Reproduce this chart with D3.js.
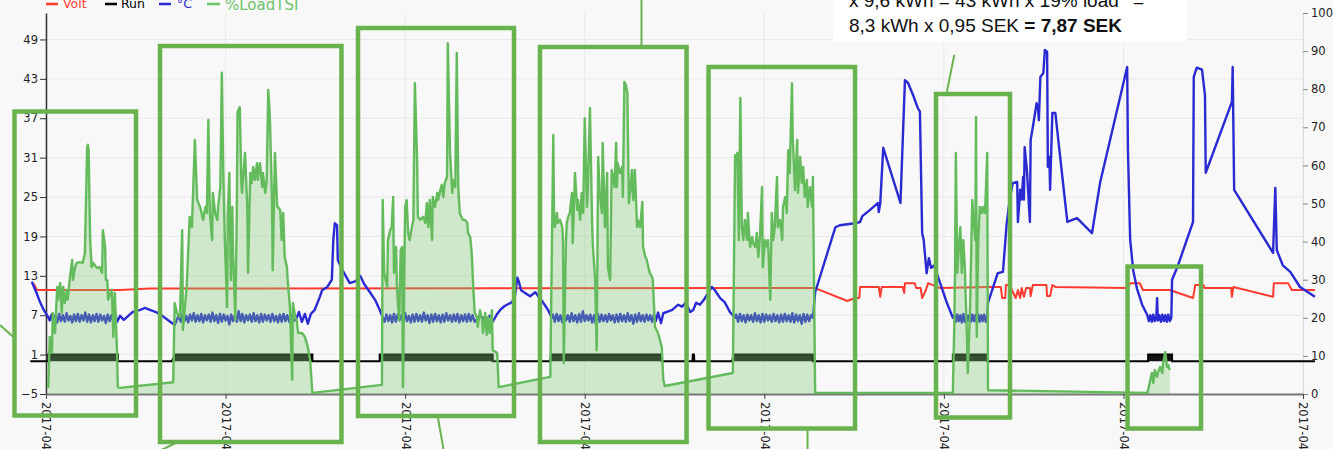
<!DOCTYPE html>
<html><head><meta charset="utf-8">
<script src="https://cdn.jsdelivr.net/npm/d3@7"></script>
<style>
html,body{margin:0;padding:0;background:#f8f8f8;overflow:hidden}
svg{display:block}
</style></head><body>
<svg id="chart" width="1333" height="449"></svg>
<script>
// ---------------- DATA (time in hours from first tick) ----------------
const xTicks = [0, 24, 48, 72, 96, 120, 144, 168];
const xTickLabels = ["2017-04","2017-04","2017-04","2017-04","2017-04","2017-04","2017-04","2017-04"];
const leftTicks = [-5, 1, 7, 13, 19, 25, 31, 37, 43, 49];
const rightTicks = [0, 10, 20, 30, 40, 50, 60, 70, 80, 90, 100];
const seriesNames = ["Volt", "Run", "°C", "%LoadTSI"];

// Volt (right axis)
const volt = [[-1.7,29.1],[-1.2,27.3],[9.9,27.3],[13.9,27.7],[102.8,27.8],[107.1,24.4],[108.1,25.2],[108.7,25.2],[108.8,28.1],[111.3,28.1],[111.5,25.5],[111.7,28.1],[114.5,28.1],[114.7,26.5],[114.8,29.1],[116.1,29.1],[116.3,27.8],[116.9,27.8],[117.1,25.2],[117.6,27.3],[117.9,29.1],[119.5,27.8],[126.2,28.1],[127.6,28.1],[127.8,25.2],[128.2,25.2],[128.3,28.6],[128.8,28.6],[129.1,27.3],[129.6,25.2],[129.9,27.3],[130.2,25.2],[130.4,27.8],[130.7,25.5],[131.0,27.8],[131.5,27.8],[131.6,25.7],[131.8,27.8],[131.9,28.6],[133.7,28.6],[133.8,25.7],[134.2,25.7],[134.5,28.6],[134.9,28.1],[144.5,27.8],[144.9,29.1],[146.2,29.1],[146.6,27.3],[150.2,27.3],[153.3,25.2],[153.6,28.6],[154.7,28.6],[154.8,27.8],[158.4,27.8],[158.5,25.5],[158.7,28.1],[164.0,25.5],[164.1,29.1],[166.0,29.1],[166.5,27.3],[169.6,27.3]];

// Run 0/1 (left axis)
const run = [[-2.1,0],[0.3,0],[0.3,1],[9.6,1],[9.6,0],[16.8,0],[17.3,1],[35.6,1],[35.6,0],[44.6,0],[44.6,1],[59.7,1],[59.7,0],[67.4,0],[67.5,1],[82.3,1],[82.3,0],[86.4,0],[86.45,1],[86.6,1],[86.65,0],[91.7,0],[91.9,1],[102.5,1],[102.5,0],[121.2,0],[121.2,1],[125.8,1],[125.8,0],[147.3,0],[147.3,1],[150.5,1],[150.5,0],[169.6,0]];

// °C (left axis)
const temp = [[-1.9,12.1],[-1.3,10.5],[-0.8,9.0],[-0.3,7.8],[0.3,6.7],
[0.5,6.2],[0.75,7.1],[1.0,6.0],[1.25,7.0],[1.5,5.9],[1.75,7.2],[2.0,6.1],[2.25,7.0],[2.5,6.0],[2.75,7.3],[3.0,6.2],[3.25,6.9],[3.5,5.9],[3.75,7.1],[4.0,6.1],[4.25,7.2],[4.5,6.0],[4.75,7.0],[5.0,6.2],[5.25,7.4],[5.5,6.0],[5.75,7.1],[6.0,5.9],[6.25,7.0],[6.5,6.1],[6.75,7.2],[7.0,6.0],[7.25,7.1],[7.5,6.2],[7.75,6.9],[8.0,5.8],[8.25,7.1],[8.5,6.1],[8.75,7.0],[9.0,6.0],[9.25,7.2],[9.5,6.0],
[9.9,6.9],[10.4,6.3],[11.0,6.9],[11.6,7.5],[12.6,7.8],[13.2,8.1],[13.9,7.8],[14.6,7.5],[15.2,7.2],[15.9,6.6],[16.6,6.0],[17.2,5.5],[17.5,6.3],
[17.75,7.0],[18.0,6.0],[18.25,7.2],[18.5,6.1],[18.75,6.9],[19.0,5.9],[19.25,7.1],[19.5,6.2],[19.75,7.3],[20.0,6.0],[20.25,7.0],[20.5,6.1],[20.75,7.2],[21.0,5.9],[21.25,7.0],[21.5,6.2],[21.75,7.1],[22.0,6.0],[22.25,7.4],[22.5,6.1],[22.75,7.0],[23.0,5.8],[23.25,7.2],[23.5,6.0],[23.75,7.1],[24.0,6.2],[24.25,6.9],[24.5,5.6],[24.75,7.1],[25.0,6.1],[25.25,7.0],[25.5,6.0],[25.75,7.6],[26.0,6.1],[26.25,7.2],[26.5,5.9],[26.75,7.0],[27.0,6.2],[27.25,7.1],[27.5,6.0],[27.75,7.3],[28.0,6.1],[28.25,7.0],[28.5,5.9],[28.75,7.2],[29.0,6.0],[29.25,7.1],[29.5,6.2],[29.75,7.0],[30.0,6.0],[30.25,7.2],[30.5,6.1],[30.75,6.9],[31.0,5.9],[31.25,7.1],[31.5,6.0],[31.75,7.2],[32.0,6.1],[32.25,7.0],[32.5,6.0],[32.75,7.1],[33.0,6.2],
[33.4,6.3],[33.8,7.5],[34.2,6.0],[34.6,7.2],[35.0,5.7],[35.4,7.2],[35.9,7.8],[36.6,9.8],[36.9,10.8],[37.6,11.3],[38.2,12.4],[38.4,18.5],[38.6,21.0],[38.9,20.7],[39.0,15.4],[39.6,13.9],[40.6,11.9],[41.4,12.2],[42.0,13.0],[42.5,11.8],[43.3,10.5],[44.0,9.3],[44.6,7.8],[45.0,6.7],
[45.25,6.0],[45.5,7.1],[45.75,6.1],[46.0,7.0],[46.25,5.9],[46.5,7.2],[46.75,6.0],[47.0,7.1],[47.25,6.2],[47.5,7.0],[47.75,6.0],[48.0,7.3],[48.25,6.1],[48.5,6.9],[48.75,5.9],[49.0,7.1],[49.25,6.0],[49.5,7.2],[49.75,6.1],[50.0,7.0],[50.25,6.0],[50.5,7.4],[50.75,6.2],[51.0,7.0],[51.25,5.8],[51.5,7.1],[51.75,6.0],[52.0,7.2],[52.25,6.1],[52.5,7.0],[52.75,5.9],[53.0,7.1],[53.25,6.0],[53.5,7.3],[53.75,6.2],[54.0,7.0],[54.25,6.0],[54.5,7.1],[54.75,6.1],[55.0,7.2],[55.25,5.9],[55.5,7.0],[55.75,6.1],[56.0,7.1],[56.25,6.0],[56.5,7.2],[56.75,6.1],[57.0,7.0],
[57.3,6.0],[58.0,6.9],[58.7,6.3],[59.3,6.9],[59.7,6.0],[60.3,7.2],[60.7,7.8],[61.3,8.4],[62.3,9.0],[62.7,10.1],[63.0,12.7],[63.2,12.1],[63.5,10.8],[64.0,10.4],[64.7,9.9],[65.4,10.5],[65.8,9.9],[66.4,9.0],[67.1,7.8],[67.6,6.6],
[67.75,7.1],[68.0,6.0],[68.25,7.2],[68.5,6.1],[68.75,7.0],[69.0,5.9],[69.25,7.1],[69.5,6.2],[69.75,7.0],[70.0,6.0],[70.25,7.3],[70.5,6.1],[70.75,7.0],[71.0,5.9],[71.25,7.2],[71.5,6.0],[71.75,7.6],[72.0,6.1],[72.25,7.0],[72.5,6.2],[72.75,7.1],[73.0,5.9],[73.25,7.0],[73.5,5.6],[73.75,7.2],[74.0,6.0],[74.25,7.1],[74.5,6.1],[74.75,7.0],[75.0,6.0],[75.25,7.2],[75.5,6.2],[75.75,7.0],[76.0,5.9],[76.25,7.1],[76.5,6.0],[76.75,7.2],[77.0,6.1],[77.25,7.0],[77.5,6.0],[77.75,7.3],[78.0,6.1],[78.25,7.0],[78.5,5.7],[78.75,7.1],[79.0,6.0],[79.25,7.3],[79.5,6.1],[79.75,7.0],[80.0,6.0],[80.25,7.1],[80.5,6.2],[80.75,7.0],[81.0,6.0],[81.25,7.1],[81.5,6.1],
[81.8,7.4],[82.2,5.8],[82.5,7.3],[83.0,7.5],[83.7,7.8],[84.5,8.6],[85.0,8.3],[85.5,8.9],[86.1,7.5],[86.5,7.8],[86.9,8.9],[87.4,8.6],[87.9,9.3],[88.5,10.4],[89.0,11.3],[89.4,10.8],[90.1,9.6],[90.7,9.0],[91.4,7.5],[92.1,6.6],
[92.25,7.1],[92.5,6.0],[92.75,7.2],[93.0,6.1],[93.25,7.0],[93.5,5.9],[93.75,7.1],[94.0,6.2],[94.25,7.0],[94.5,6.0],[94.75,7.3],[95.0,6.1],[95.25,7.0],[95.5,5.9],[95.75,7.2],[96.0,6.0],[96.25,7.1],[96.5,6.2],[96.75,7.0],[97.0,6.0],[97.25,7.2],[97.5,6.1],[97.75,7.0],[98.0,5.9],[98.25,7.1],[98.5,6.0],[98.75,7.2],[99.0,6.1],[99.25,7.0],[99.5,6.0],[99.75,7.3],[100.0,5.9],[100.25,7.1],[100.5,6.1],[100.75,7.0],[101.0,5.7],[101.25,7.2],[101.5,6.0],[101.75,7.1],[102.0,6.1],[102.25,7.0],[102.5,6.6],
[102.8,10.5],[105.5,20.4],[106.1,20.7],[108.1,21.0],[108.8,21.2],[109.1,22.1],[110.1,23.0],[111.2,24.1],[111.3,22.7],[111.5,24.1],[111.9,32.5],[114.2,24.1],[114.8,42.8],[115.2,42.4],[115.9,40.5],[116.5,38.6],[116.8,38.0],[117.1,19.5],[117.3,18.5],[117.7,13.4],[118.0,15.7],[118.3,14.2],[118.7,14.6],[118.9,13.9],[120.4,8.9],[121.2,6.6],
[121.4,7.0],[121.6,6.0],[121.8,7.1],[122.0,6.1],[122.2,7.0],[122.4,5.9],[122.6,7.2],[122.8,6.0],[123.0,7.1],[123.2,6.2],[123.4,7.0],[123.6,6.0],[123.8,7.1],[124.0,6.1],[124.2,7.0],[124.4,5.9],[124.6,7.1],[124.8,6.0],[125.0,7.0],[125.2,6.1],[125.4,7.1],[125.6,6.0],[125.8,6.6],
[125.9,8.9],[126.6,11.3],[127.2,13.4],[127.9,13.6],[128.4,21.0],[128.8,24.6],[129.2,27.1],[129.8,27.3],[129.9,21.2],[130.2,26.1],[130.4,24.6],[130.6,28.1],[130.7,24.6],[130.8,32.6],[131.1,29.1],[131.5,21.2],[131.6,33.7],[131.9,35.7],[132.4,39.3],[132.6,38.3],[132.7,36.7],[132.9,43.3],[133.3,43.9],[133.5,47.4],[133.8,47.1],[133.9,29.6],[134.1,31.1],[134.2,26.1],[134.5,37.8],[134.9,37.8],[136.5,21.2],[137.8,21.8],[139.8,19.5],[140.9,27.3],[144.5,44.8],[144.6,32.2],[144.9,18.5],[145.3,13.9],[145.8,11.1],[146.5,8.6],[147.2,7.0],
[147.4,6.1],[147.6,7.0],[147.8,6.0],[148.0,7.1],[148.2,6.1],[148.4,6.8],[148.5,9.6],[148.6,6.2],[148.8,7.0],[149.0,6.0],[149.2,7.1],[149.4,6.1],[149.6,7.0],[149.8,6.0],[150.0,7.1],[150.2,6.1],[150.4,6.6],
[150.5,12.4],[151.2,14.3],[153.3,21.2],[153.4,43.3],[153.8,44.7],[154.5,44.4],[154.9,40.5],[155.0,28.7],[158.5,39.5],[158.6,44.8],[158.8,26.1],[164.0,16.5],[164.3,26.4],[164.5,16.9],[165.3,14.6],[166.3,13.6],[167.6,11.3],[169.6,9.8]];

// %LoadTSI (right axis)
const loadTSI = [[0.3,1.6],[0.5,15.0],[0.8,10.8],[0.9,21.3],[1.2,16.0],[1.5,28.1],[1.6,24.7],[1.9,29.1],[2.1,21.3],[2.3,28.1],[2.5,23.9],[2.8,27.3],[2.9,24.7],[3.2,30.7],[3.5,35.2],[3.6,29.9],[3.9,33.3],[4.1,34.4],[4.5,34.6],[4.9,34.4],[5.2,37.0],[5.5,64.8],[5.6,65.4],[5.7,64.0],[5.9,40.4],[6.1,33.3],[6.3,34.4],[6.8,33.1],[7.2,33.3],[7.5,31.8],[7.6,43.0],[7.9,38.6],[8.0,29.9],[8.2,29.9],[8.3,24.7],[8.6,26.5],[8.8,27.3],[9.0,15.0],[9.2,26.5],[9.5,10.8],[9.6,1.8],[9.9,1.6],
[17.0,3.1],[17.2,23.9],[17.5,21.3],[17.9,20.2],[18.2,43.0],[18.3,16.8],[18.8,28.1],[19.2,46.5],[19.5,43.8],[19.9,66.7],[20.2,50.9],[20.6,49.1],[21.0,45.7],[21.3,49.1],[21.5,47.5],[21.7,71.9],[21.9,47.5],[22.2,40.4],[22.3,52.8],[22.6,47.5],[22.9,45.7],[23.0,49.1],[23.3,54.3],[23.5,84.3],[23.7,58.0],[23.9,40.4],[24.2,22.8],[24.3,47.5],[24.5,58.0],[24.7,29.9],[24.9,49.1],[25.0,37.0],[25.3,19.4],[25.5,47.5],[25.6,73.8],[25.7,74.5],[25.9,75.3],[26.1,56.2],[26.2,52.8],[26.3,55.4],[26.6,63.3],[26.9,49.1],[27.0,31.8],[27.3,58.0],[27.5,55.4],[27.7,59.6],[27.9,56.2],[28.2,60.6],[28.3,56.2],[28.6,60.6],[28.9,54.3],[29.0,58.0],[29.3,52.8],[29.5,56.2],[29.7,79.8],[29.9,73.8],[30.2,51.7],[30.3,32.5],[30.6,63.3],[30.9,49.1],[31.0,49.1],[31.3,48.3],[31.5,40.4],[31.7,47.5],[31.9,36.0],[32.2,33.3],[32.3,29.9],[32.6,22.8],[32.9,3.7],[33.0,23.9],[33.3,20.2],[33.5,19.4],[33.7,16.0],[34.2,16.0],[34.6,15.0],[35.0,12.3],[35.3,8.9],[35.6,0.3],
[44.9,2.4],[45.0,50.9],[45.2,31.8],[45.6,28.1],[45.7,40.4],[46.0,43.0],[46.2,43.8],[46.4,51.7],[46.5,31.8],[46.8,38.6],[46.9,28.1],[47.2,19.4],[47.4,37.8],[47.6,38.6],[47.7,1.8],[48.0,49.1],[48.2,50.9],[48.4,42.3],[48.6,40.4],[48.9,43.8],[49.1,45.7],[49.3,81.6],[49.6,61.4],[49.7,46.5],[50.0,45.7],[50.4,46.5],[50.7,44.9],[50.9,50.1],[51.1,43.8],[51.3,50.9],[51.6,40.4],[51.7,51.7],[52.0,49.1],[52.3,52.8],[52.4,50.9],[52.7,53.5],[52.9,54.9],[53.1,51.7],[53.3,55.4],[53.6,57.0],[53.7,92.1],[54.0,63.3],[54.3,52.8],[54.4,56.2],[54.7,54.3],[54.9,89.5],[55.1,54.3],[55.3,47.5],[55.7,45.7],[56.0,45.7],[56.3,44.9],[56.4,42.3],[56.7,41.2],[56.9,37.0],[57.1,28.1],[57.3,21.3],[57.6,20.2],[57.7,17.6],[58.0,22.0],[58.3,19.4],[58.4,16.0],[58.7,21.3],[58.9,15.5],[59.1,20.2],[59.3,16.0],[59.6,22.0],[59.7,11.5],[60.3,10.8],[60.5,1.8],
[67.4,4.5],[67.8,68.0],[67.9,47.5],[68.0,43.8],[68.3,47.5],[68.4,44.9],[68.7,45.7],[69.0,43.8],[69.1,40.4],[69.2,8.1],[69.5,40.4],[69.6,44.9],[69.8,46.5],[70.0,47.5],[70.3,52.8],[70.4,39.6],[70.7,58.0],[71.0,48.3],[71.1,50.9],[71.4,45.7],[71.6,52.8],[71.8,47.5],[72.0,72.4],[72.3,49.1],[72.4,52.8],[72.7,75.1],[73.0,43.8],[73.1,38.6],[73.4,29.9],[73.6,11.5],[73.8,62.2],[74.0,52.8],[74.3,47.5],[74.4,65.9],[74.7,43.8],[75.0,58.0],[75.1,33.3],[75.4,29.9],[75.6,58.8],[75.8,57.0],[76.0,54.3],[76.2,65.9],[76.3,54.3],[76.4,60.6],[76.7,58.0],[77.0,59.6],[77.1,51.7],[77.3,81.9],[77.5,81.1],[77.7,79.0],[77.9,50.1],[78.1,53.5],[78.3,58.8],[78.5,50.9],[78.7,58.8],[79.0,43.8],[79.1,45.7],[79.4,43.8],[79.7,50.4],[79.8,38.6],[80.1,36.0],[80.3,35.2],[80.5,33.3],[80.7,31.8],[81.0,30.7],[81.1,29.9],[81.4,17.6],[81.8,16.0],[82.3,12.3],[82.5,3.7],[82.7,2.1],
[91.8,5.5],[92.1,62.7],[92.2,60.6],[92.4,63.3],[92.6,40.4],[92.8,77.7],[93.0,43.8],[93.2,40.4],[93.4,45.7],[93.7,40.4],[93.8,47.5],[94.1,38.6],[94.4,41.2],[94.5,39.6],[94.8,38.6],[95.0,42.3],[95.2,36.0],[95.4,40.4],[95.7,54.3],[95.8,33.3],[96.1,40.4],[96.4,38.6],[96.5,40.4],[96.8,24.7],[97.0,47.5],[97.2,40.4],[97.4,43.8],[97.7,57.0],[97.8,43.8],[98.1,45.7],[98.4,40.4],[98.5,49.1],[98.8,51.7],[99.0,47.5],[99.2,64.0],[99.4,58.0],[99.7,81.6],[99.8,67.5],[100.1,53.5],[100.4,66.7],[100.5,52.8],[100.8,62.2],[101.0,55.4],[101.2,59.6],[101.4,51.7],[101.7,56.2],[101.8,49.1],[102.1,54.3],[102.4,49.1],[102.5,57.0],[102.8,0.3],
[121.2,0.3],[121.4,18.6],[121.5,33.3],[121.6,63.3],[121.8,31.8],[122.0,38.6],[122.2,43.8],[122.4,31.8],[122.6,40.4],[122.8,33.3],[123.1,14.2],[123.2,5.5],[123.5,22.8],[123.8,50.9],[123.9,47.5],[124.2,40.4],[124.3,72.7],[124.4,15.0],[124.6,40.4],[124.8,49.1],[125.1,47.5],[125.2,49.1],[125.5,47.5],[125.8,63.3],[125.9,1.0],
[147.2,0.3],[147.6,3.7],[147.8,5.5],[148.0,2.9],[148.2,6.3],[148.5,4.5],[148.6,5.5],[148.9,7.1],[149.2,5.5],[149.3,8.1],[149.6,11.0],[149.8,7.1],[150.0,7.6],[150.2,6.3]];

// Annotation boxes, in data units: [h0, h1, load% top, load% bottom]
const annoBoxes = [[-4.21,12.03,74.15,-5.64],[15.24,39.49,91.34,-12.6],[41.70,62.55,96.06,-5.77],[66.02,85.61,91.08,-12.6],[88.55,108.13,85.83,-9.06],[118.95,128.84,78.74,-6.17],[144.55,154.37,33.46,-9.06]];
// Callout lines, in data units: [h0, load0, h1, load1]
const annoLines = [[-6.15,18.1,-4.21,14.7],[17.6,-12.6,14.9,-15.2],[52.39,-6.3,53.19,-15.2],[79.59,103.4,79.59,91.3],[101.78,-9.4,101.78,-15.2],[120.4,79.3,121.4,89.0]];
const noteLine1 = "x 9,6 kWh = 43 kWh x 19% load";
const noteLine1End = "=";
const noteLine2a = "8,3 kWh x 0,95 SEK ";
const noteLine2b = "= 7,87 SEK";

// ---------------- DRAW ----------------
const C = {red:"#ff3b2f", black:"#000", blue:"#2a2ad2", green:"#64bb5c", box:"#69b34e"};
const svg = d3.select("#chart");
const x = d3.scaleLinear().domain([0,168]).range([46,1303]);
const yL = d3.scaleLinear().domain([-5,53.03]).range([394,13]);
const yR = d3.scaleLinear().domain([0,100]).range([394,13]);

// grid
svg.append("g").selectAll("line").data(leftTicks).join("line")
  .attr("x1",x(0)).attr("x2",x(168)).attr("y1",d=>yL(d)).attr("y2",d=>yL(d))
  .attr("stroke","#e9e9e9").attr("stroke-width",1);
svg.append("g").selectAll("line").data(xTicks).join("line")
  .attr("x1",d=>x(d)).attr("x2",d=>x(d)).attr("y1",yR(100)).attr("y2",yR(0))
  .attr("stroke","#e9e9e9").attr("stroke-width",1);

// axes
const tickFont = "DejaVu Sans, Verdana, sans-serif";
const gL = svg.append("g").attr("transform",`translate(${x(0)},0)`)
  .call(d3.axisLeft(yL).tickValues(leftTicks).tickSize(6).tickSizeOuter(0).tickPadding(2));
gL.select(".domain").attr("stroke","#333").attr("stroke-width",1.5);
gL.selectAll(".tick line").attr("stroke","#333");
gL.selectAll("text").attr("font-family",tickFont).attr("font-size",11.5).attr("fill","#222");

const gR = svg.append("g").attr("transform",`translate(${x(168)},0)`)
  .call(d3.axisRight(yR).tickValues(rightTicks).tickSize(5).tickSizeOuter(0).tickPadding(3));
gR.select(".domain").attr("stroke","#ddd");
gR.selectAll(".tick line").attr("stroke","#888");
gR.selectAll("text").attr("font-family",tickFont).attr("font-size",11.5).attr("fill","#222");

const gB = svg.append("g").attr("transform",`translate(0,${yR(0)})`)
  .call(d3.axisBottom(x).tickValues(xTicks).tickFormat((d,i)=>xTickLabels[i]).tickSize(5).tickSizeOuter(0));
gB.select(".domain").attr("stroke","#777").attr("stroke-width",2);
gB.selectAll(".tick line").attr("stroke","#444");
gB.selectAll("text").attr("font-family",tickFont).attr("font-size",11.5).attr("fill","#222")
  .attr("transform","rotate(90)").attr("x",8).attr("y",0).attr("dy","0.35em").style("text-anchor","start");

// series
const lineR = d3.line().x(d=>x(d[0])).y(d=>yR(d[1]));
const lineL = d3.line().x(d=>x(d[0])).y(d=>yL(d[1]));

svg.append("path").datum(volt).attr("d",lineR).attr("fill","none")
  .attr("stroke",C.red).attr("stroke-width",2).attr("stroke-linejoin","round");

svg.append("path").datum(run)
  .attr("d",d3.area().x(d=>x(d[0])).y0(yL(0)).y1(d=>yL(d[1])))
  .attr("fill","#000").attr("fill-opacity",0.92);
svg.append("path").datum(run).attr("d",lineL).attr("fill","none")
  .attr("stroke",C.black).attr("stroke-width",2);

svg.append("path").datum(temp).attr("d",lineL).attr("fill","none")
  .attr("stroke",C.blue).attr("stroke-width",2.4).attr("stroke-linejoin","round");

svg.append("path").datum(loadTSI)
  .attr("d",d3.area().x(d=>x(d[0])).y0(yR(0)).y1(d=>yR(d[1])))
  .attr("fill","#7cc46f").attr("fill-opacity",0.33);
svg.append("path").datum(loadTSI).attr("d",lineR).attr("fill","none")
  .attr("stroke",C.green).attr("stroke-width",2.4).attr("stroke-linejoin","round");

// annotations
svg.append("g").selectAll("rect").data(annoBoxes).join("rect")
  .attr("x",d=>x(d[0])).attr("y",d=>yR(d[2]))
  .attr("width",d=>x(d[1])-x(d[0])).attr("height",d=>yR(d[3])-yR(d[2]))
  .attr("fill","none").attr("stroke",C.box).attr("stroke-width",4.5);
svg.append("g").selectAll("line").data(annoLines).join("line")
  .attr("x1",d=>x(d[0])).attr("y1",d=>yR(d[1])).attr("x2",d=>x(d[2])).attr("y2",d=>yR(d[3]))
  .attr("stroke",C.box).attr("stroke-width",2);

// note box
svg.append("rect").attr("x",833).attr("y",-5).attr("width",354).attr("height",47).attr("fill","#fff");
const nf = "Liberation Sans, Arial, sans-serif";
svg.append("text").attr("x",849).attr("y",7).attr("font-family",nf).attr("font-size",19).attr("fill","#111").text(noteLine1);
svg.append("text").attr("x",1133).attr("y",7).attr("font-family",nf).attr("font-size",19).attr("fill","#111").text(noteLine1End);
const t2 = svg.append("text").attr("x",849).attr("y",32).attr("font-family",nf).attr("font-size",19).attr("fill","#111");
t2.append("tspan").text(noteLine2a);
t2.append("tspan").attr("font-weight","bold").text(noteLine2b);

// legend
const legendLayout = [
  {x1:46,x2:58,tx:63,size:12.5,color:C.red,ty:8},
  {x1:105,x2:117,tx:121,size:12.5,color:"#000",ty:8},
  {x1:159,x2:171,tx:177,size:12.5,color:C.blue,ty:8},
  {x1:207,x2:220,tx:225,size:15,color:"#6cc36a",ty:10}
];
const lg = svg.append("g");
seriesNames.forEach((n,i)=>{
  const L = legendLayout[i];
  lg.append("line").attr("x1",L.x1).attr("x2",L.x2).attr("y1",4).attr("y2",4)
    .attr("stroke",L.color).attr("stroke-width",2.5);
  lg.append("text").attr("x",L.tx).attr("y",L.ty).attr("font-family",tickFont)
    .attr("font-size",L.size).attr("fill",L.color).text(n);
});
</script>
</body></html>
